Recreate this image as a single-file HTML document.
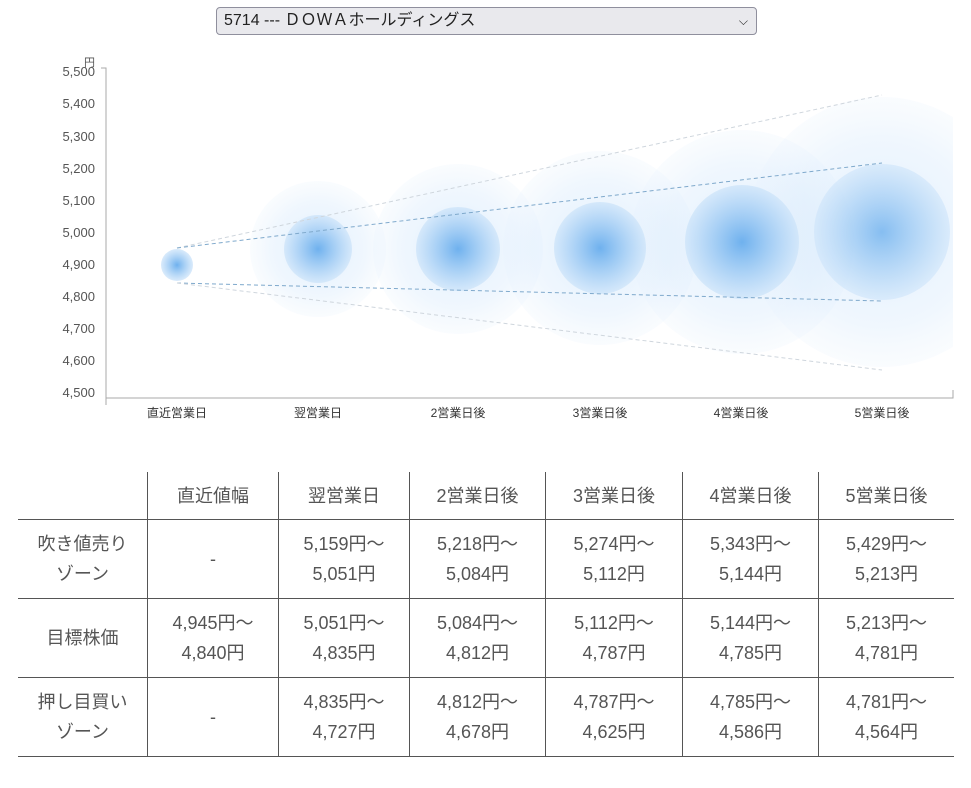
<!DOCTYPE html>
<html><head><meta charset="utf-8"><style>
body{margin:0;background:#fff;font-family:"Liberation Sans","Noto Sans CJK JP",sans-serif;width:971px;height:788px;position:relative;overflow:hidden}
.sel{position:absolute;left:216px;top:7px;width:541px;height:28px;border:1px solid #8f8f9d;border-radius:4px;background:#e9e9ed;box-sizing:border-box;font-size:16px;color:#222;line-height:26px;padding-left:7px}
.sel span{position:absolute;right:8px;top:0;font-size:12px}
table{position:absolute;left:18px;top:472px;border-collapse:collapse;color:#555;font-size:18px}
td{border-left:1px solid #555;border-bottom:1px solid #555;text-align:center;line-height:30px;padding:0}
td:first-child{border-left:none}
tr.h td{height:47px}
tr.r td{height:78px}
</style></head><body>
<div class="sel">5714 --- ＤＯＷＡホールディングス<span>&#x2335;</span></div>
<svg width="971" height="440" style="position:absolute;left:0;top:0" font-family="Liberation Sans,Noto Sans CJK JP,sans-serif">
<defs>
<radialGradient id="o"><stop offset="0" stop-color="#bcdcf8" stop-opacity=".45"/><stop offset=".7" stop-color="#d4e8fc" stop-opacity=".35"/><stop offset="1" stop-color="#e4f0fd" stop-opacity=".2"/></radialGradient>
<radialGradient id="i"><stop offset="0" stop-color="#6fb1ee"/><stop offset="1" stop-color="#cde4fa" stop-opacity=".75"/></radialGradient>
<clipPath id="c"><rect x="107" y="40" width="846" height="358"/></clipPath>
</defs>
<g clip-path="url(#c)">
<circle cx="318" cy="249" r="68" fill="url(#o)"/>
<circle cx="458" cy="249" r="85" fill="url(#o)"/>
<circle cx="600" cy="248" r="97" fill="url(#o)"/>
<circle cx="742" cy="242" r="112" fill="url(#o)"/>
<circle cx="882" cy="232" r="135" fill="url(#o)"/>
<circle cx="177" cy="265" r="16" fill="url(#i)"/>
<circle cx="318" cy="249" r="34" fill="url(#i)"/>
<circle cx="458" cy="249" r="42" fill="url(#i)"/>
<circle cx="600" cy="248" r="46" fill="url(#i)"/>
<circle cx="742" cy="242" r="57" fill="url(#i)"/>
<circle cx="882" cy="232" r="68" fill="url(#i)" opacity=".8"/>
</g>
<g fill="none" stroke-dasharray="4,3">
<line stroke="#cfd6dd" x1="177" y1="248" x2="882" y2="95"/>
<line stroke="#7fa9cc" x1="177" y1="248" x2="882" y2="163"/>
<line stroke="#7fa9cc" x1="177" y1="283" x2="882" y2="301"/>
<line stroke="#cfd6dd" x1="177" y1="283" x2="882" y2="370"/>
</g>
<g stroke="#aaa" fill="none"><path d="M101 68H106V405M106 398H953V390"/></g>
<g font-size="13" fill="#555" text-anchor="end">
<text x="95" y="76">5,500</text><text x="95" y="108">5,400</text><text x="95" y="141">5,300</text><text x="95" y="173">5,200</text><text x="95" y="205">5,100</text><text x="95" y="237">5,000</text><text x="95" y="269">4,900</text><text x="95" y="301">4,800</text><text x="95" y="333">4,700</text><text x="95" y="365">4,600</text><text x="95" y="397">4,500</text>
<text x="95" y="66" font-size="11">円</text>
</g>
<g font-size="12" fill="#333" text-anchor="middle">
<text x="177" y="417">直近営業日</text><text x="318" y="417">翌営業日</text><text x="458" y="417">2営業日後</text><text x="600" y="417">3営業日後</text><text x="741" y="417">4営業日後</text><text x="882" y="417">5営業日後</text>
</g>
</svg>
<table>
<tr class="h"><td style="width:129px"></td><td style="width:130px">直近値幅</td><td style="width:130px">翌営業日</td><td style="width:135px">2営業日後</td><td style="width:136px">3営業日後</td><td style="width:135px">4営業日後</td><td style="width:135px">5営業日後</td></tr>
<tr class="r"><td>吹き値売り<br>ゾーン</td><td>-</td><td>5,159円～<br>5,051円</td><td>5,218円～<br>5,084円</td><td>5,274円～<br>5,112円</td><td>5,343円～<br>5,144円</td><td>5,429円～<br>5,213円</td></tr>
<tr class="r"><td>目標株価</td><td>4,945円～<br>4,840円</td><td>5,051円～<br>4,835円</td><td>5,084円～<br>4,812円</td><td>5,112円～<br>4,787円</td><td>5,144円～<br>4,785円</td><td>5,213円～<br>4,781円</td></tr>
<tr class="r"><td>押し目買い<br>ゾーン</td><td>-</td><td>4,835円～<br>4,727円</td><td>4,812円～<br>4,678円</td><td>4,787円～<br>4,625円</td><td>4,785円～<br>4,586円</td><td>4,781円～<br>4,564円</td></tr>
</table>
</body></html>
